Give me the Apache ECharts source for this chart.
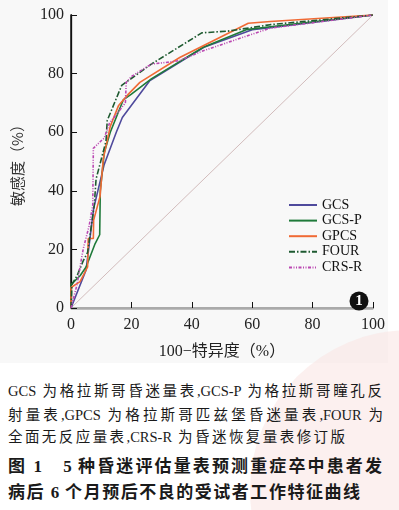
<!DOCTYPE html>
<html><head><meta charset="utf-8">
<script src="https://cdn.jsdelivr.net/npm/echarts@6/dist/echarts.min.js"></script>
<style>
html,body{margin:0;padding:0;background:#fff;}
#wrap{position:relative;width:399px;height:510px;overflow:hidden;}
#bg{position:absolute;left:0;top:0;width:388px;height:363px;background:#f8f8f8;}
#wm{position:absolute;left:250px;top:330px;width:320px;height:320px;border-radius:50%;background:rgba(250,228,226,0.55);}
#chart{position:absolute;left:0;top:0;width:399px;height:365px;}
.cap{position:absolute;left:8px;font-family:"Liberation Serif","Noto Sans CJK SC",serif;color:#1a1a1a;white-space:nowrap;text-align:justify;text-align-last:justify;}
.c1{font-size:14.5px;height:18px;line-height:18px;}
.c2{font-size:17px;font-weight:bold;height:22px;line-height:22px;}
</style></head>
<body><div id="wrap">
<div id="bg"></div><div id="wm"></div>
<div id="chart"></div>
<div class="cap c1" style="top:382px;width:374px;">GCS 为格拉斯哥昏迷量表,GCS-P 为格拉斯哥瞳孔反</div>
<div class="cap c1" style="top:406px;width:375px;">射量表,GPCS 为格拉斯哥匹兹堡昏迷量表,FOUR 为</div>
<div class="cap c1" style="top:428px;width:337px;">全面无反应量表,CRS-R 为昏迷恢复量表修订版</div>
<div class="cap c2" style="top:456px;width:374px;">图 1　5 种昏迷评估量表预测重症卒中患者发</div>
<div class="cap c2" style="top:482px;width:352px;">病后 6 个月预后不良的受试者工作特征曲线</div>
</div>
<script>
const seriesNames = ['GCS','GCS-P','GPCS','FOUR','CRS-R'];
const xTicks = [0,20,40,60,80,100];
const yTicks = [0,20,40,60,80,100];

const gcsX  = [0, 5, 7.5, 11, 15, 17, 26, 44, 60, 66, 100];
const gcsY  = [0, 13, 34, 49, 60, 65, 77.5, 89, 95, 95.7, 100];

const gcspX = [0, 0, 3, 5, 8, 9.5, 9.7, 11, 13, 17.3, 20, 26.7, 43.8, 58, 66, 100];
const gcspY = [0, 8, 11, 14, 22, 25, 40, 53, 60, 71, 73, 78.3, 89, 95, 96, 100];

const gpcsX = [0, 0, 3, 5.5, 5.7, 7.4, 7.5, 9.6, 10.7, 13, 15.7, 19, 22.8, 36, 58.7, 66, 100];
const gpcsY = [0, 7, 9, 14, 23.7, 23.7, 30, 38, 51, 62, 69, 73, 77, 85.5, 97.2, 97.8, 100];

const fourX = [0, 0.3, 2, 4, 5.5, 7.7, 8.3, 11.6, 12, 16.8, 26.7, 43.3, 52, 66, 100];
const fourY = [0, 8, 11, 16, 19, 35, 44, 57, 64, 76, 83.3, 93.9, 94.5, 96.7, 100];

const crsrX = [0, 2, 3.5, 4.1, 6, 7.2, 7.4, 9.9, 11, 12.7, 18, 18.3, 20, 26.7, 33.3, 36, 43.8, 65.9, 100];
const crsrY = [0, 8, 17, 20.4, 28, 35, 54.5, 57, 58, 63, 70, 77, 79, 83.3, 84, 84.5, 87.8, 95.5, 100];

const refX = [0, 100];
const refY = [0, 100];

const colors = ['#4f4a9c','#1f7a3a','#f06a35','#1e5a30','#bb48b2'];
const dashes = ['solid','solid','solid',[6,2,1.5,2],[3,1.5,1,1.5,1,1.5]];
const xs = [gcsX,gcspX,gpcsX,fourX,crsrX];
const ys = [gcsY,gcspY,gpcsY,fourY,crsrY];
const zip = (a,b)=>a.map((v,i)=>[v,b[i]]);

const serif = '"Liberation Serif", serif';
const chart = echarts.init(document.getElementById('chart'), null, {renderer:'canvas'});
const series = [{
  name:'ref', type:'line', data: zip(refX,refY), symbol:'none', silent:true,
  lineStyle:{color:'#d2bcbc', width:1}, z:1
}];
seriesNames.forEach((n,i)=>{
  series.push({name:n, type:'line', data: zip(xs[i],ys[i]), symbol:'none',
    lineStyle:{color:colors[i], width:1.6, type:dashes[i]}, itemStyle:{color:colors[i]}, z:3+i});
});
chart.setOption({
  animation:false,
  backgroundColor:'transparent',
  grid:{left:71, right:26, top:15, bottom:51, containLabel:false},
  legend:{
    data: seriesNames, orient:'vertical', left:283, top:193,
    itemWidth:28, itemHeight:14, itemGap:1.6,
    itemStyle:{opacity:0},
    textStyle:{fontFamily:serif, fontSize:14, color:'#111'}
  },
  xAxis:[{
    type:'value', min:0, max:100, interval:20,
    axisLine:{lineStyle:{color:'#111', width:1.3}},
    axisTick:{inside:true, length:6, lineStyle:{color:'#111'}},
    axisLabel:{fontFamily:serif, fontSize:16, color:'#222', margin:9},
    splitLine:{show:false},
    name:'100−特异度（%）', nameLocation:'middle', nameGap:36,
    nameTextStyle:{fontFamily:'"Liberation Serif","Noto Sans CJK SC"', fontSize:16, color:'#222'}
  },{
    type:'value', position:'top', min:0, max:100,
    axisLine:{show:true, lineStyle:{color:'#aaa', width:2}},
    axisTick:{show:false}, axisLabel:{show:false}, splitLine:{show:false}
  }],
  yAxis:[{
    type:'value', min:0, max:100, interval:20,
    axisLine:{show:true, lineStyle:{color:'#111', width:1.3}},
    axisTick:{show:true, inside:true, length:6, lineStyle:{color:'#111'}},
    axisLabel:{fontFamily:serif, fontSize:16, color:'#222', margin:7},
    splitLine:{show:false},
    name:'敏感度（%）', nameLocation:'middle', nameGap:46,
    nameTextStyle:{fontFamily:'"Noto Sans CJK SC"', fontSize:15, color:'#333'}
  },{
    type:'value', position:'right', min:0, max:100,
    axisLine:{show:true, lineStyle:{color:'#111', width:1.5}},
    axisTick:{show:false}, axisLabel:{show:false}, splitLine:{show:false}
  }],
  graphic:[
    {type:'circle', shape:{cx:359, cy:301, r:9.5}, style:{fill:'#111'}, z:10},
    {type:'text', x:359, y:301, style:{text:'1', fill:'#fff', font:'bold 15px "Liberation Serif"', align:'center', verticalAlign:'middle'}, z:11}
  ],
  series: series
});
</script>
</body></html>
